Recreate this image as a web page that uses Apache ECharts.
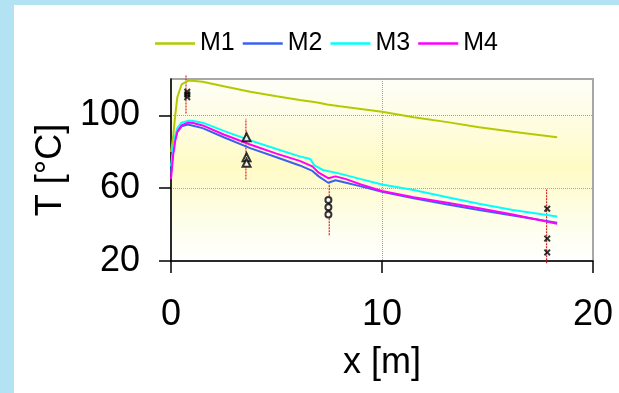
<!DOCTYPE html>
<html>
<head>
<meta charset="utf-8">
<script src="https://cdn.jsdelivr.net/npm/echarts@6/dist/echarts.min.js"></script>
<style>
  html, body { margin: 0; padding: 0; }
  body { width: 619px; height: 393px; background: #b3e3f3; position: relative; overflow: hidden; }
  #chart { position: absolute; left: 14px; top: 5px; width: 605px; height: 388px; background: #fff; }
</style>
</head>
<body>
<div id="chart"></div>
<script>
// simulated curves (x in m, T in °C)
var m1X = [0, 0.1, 0.2, 0.3, 0.5, 0.8, 1.0, 1.5, 2.5, 3.75, 5, 6.1, 6.7, 7.0, 7.4, 8.0, 9, 10, 11.5, 13.1, 14.6, 16.2, 18.3];
var m1Y = [80, 88, 100, 110, 117, 119, 119, 118.5, 116, 113, 110.5, 108.5, 107.5, 107, 106, 105, 103.5, 102, 99, 96.3, 93.5, 91, 88];

var m2X = [0, 0.1, 0.2, 0.3, 0.5, 0.8, 1.0, 1.5, 2.5, 3.75, 5, 6.1, 6.7, 7.0, 7.45, 7.8, 8.3, 9, 10, 11.5, 13.1, 14.6, 16.2, 18.3];
var m2Y = [68, 80, 87, 91, 94, 95, 94.5, 93, 88, 82, 77, 72.5, 69.5, 66.5, 63, 64.4, 63, 61, 58, 54.5, 51, 48, 45, 41];

var m3X = [0, 0.1, 0.2, 0.3, 0.5, 0.8, 1.0, 1.5, 2.5, 3.75, 5, 6.1, 6.6, 6.8, 7.2, 8.0, 9, 10, 11.5, 13.1, 14.6, 16.2, 18.3];
var m3Y = [72, 82, 89, 93, 96, 97, 97, 96, 91.5, 86.3, 81.5, 77.5, 76, 72.5, 70, 68, 65, 62, 59, 55, 51.5, 48, 44.5];

var m4X = [0, 0.1, 0.2, 0.3, 0.5, 0.8, 1.0, 1.5, 2.5, 3.75, 5, 6.1, 6.7, 7.0, 7.45, 7.8, 8.3, 9, 10, 11.5, 13.1, 14.6, 16.2, 18.3];
var m4Y = [65, 78, 86, 91, 94.5, 96, 96, 94.5, 89.5, 84, 79, 75, 72, 68.5, 65.5, 66.5, 65, 62, 58.5, 55, 52, 49, 45.5, 40.5];

// measurements
var crossAX = [0.77, 0.77, 0.77];
var crossAY = [113, 111.5, 110];
var triX = [3.58, 3.58, 3.58];
var triY = [88, 77, 74];
var circX = [7.46, 7.46, 7.46];
var circY = [53.5, 49.5, 45.5];
var crossBX = [17.83, 17.83, 17.83];
var crossBY = [48.7, 32.3, 24.7];

// error bars
var errX = [0.71, 3.55, 7.5, 17.8];
var errLow = [101, 64.8, 34.2, 18.8];
var errHigh = [122, 98.2, 62.6, 59.3];

var xTicks = [0, 10, 20];
var yTicks = [20, 60, 100];

function pairs(xs, ys) {
  return xs.map(function (x, i) { return [x, ys[i]]; });
}

var font = "'Liberation Sans', Arial, sans-serif";
var crossPath = 'path://M0,2L2,0L5,3L8,0L10,2L7,5L10,8L8,10L5,7L2,10L0,8L3,5Z';

var series = [
  { name: 'M1', color: '#b3ca00', x: m1X, y: m1Y },
  { name: 'M2', color: '#3a62ee', x: m2X, y: m2Y },
  { name: 'M3', color: '#00ffff', x: m3X, y: m3Y },
  { name: 'M4', color: '#ff00ff', x: m4X, y: m4Y }
].map(function (s) {
  return {
    name: s.name,
    type: 'line',
    data: pairs(s.x, s.y),
    showSymbol: false,
    color: s.color,
    lineStyle: { color: s.color, width: 2 },
    z: 3
  };
});

errX.forEach(function (x, i) {
  series.push({
    type: 'line',
    data: [[x, errLow[i]], [x, errHigh[i]]],
    showSymbol: false,
    clip: false,
    lineStyle: { color: '#dd2222', width: 1.2, type: [2, 1] },
    z: 2
  });
});

series.push(
  { type: 'scatter', data: pairs(crossAX, crossAY), symbol: crossPath, symbolSize: 7, itemStyle: { color: '#000' }, z: 5 },
  { type: 'scatter', data: pairs(triX, triY), symbol: 'emptyTriangle', symbolSize: 8, itemStyle: { color: '#000', borderWidth: 2 }, z: 5 },
  { type: 'scatter', data: pairs(circX, circY), symbol: 'emptyCircle', symbolSize: 6, itemStyle: { color: '#000', borderWidth: 2 }, z: 5 },
  { type: 'scatter', data: pairs(crossBX, crossBY), symbol: crossPath, symbolSize: 7, itemStyle: { color: '#000' }, z: 5 }
);

var chart = echarts.init(document.getElementById('chart'));
chart.setOption({
  animation: false,
  textStyle: { fontFamily: font },
  legend: {
    data: ['M1', 'M2', 'M3', 'M4'],
    left: 136,
    top: 21,
    icon: 'rect',
    itemWidth: 40,
    itemHeight: 2.5,
    itemGap: 8,
    textStyle: { fontSize: 25, color: '#000', fontFamily: font }
  },
  grid: {
    left: 157,
    right: 26,
    top: 74,
    bottom: 132,
    show: true,
    borderColor: '#a8a8a8',
    borderWidth: 2,
    backgroundColor: {
      type: 'linear', x: 0, y: 0, x2: 0, y2: 1,
      colorStops: [
        { offset: 0, color: '#fefef8' },
        { offset: 0.2, color: '#fefde6' },
        { offset: 0.48, color: '#fffbc6' },
        { offset: 0.85, color: '#fefef2' },
        { offset: 1, color: '#ffffff' }
      ]
    }
  },
  xAxis: {
    type: 'value',
    min: 0,
    max: 20,
    interval: 10,
    name: 'x [m]',
    nameLocation: 'middle',
    nameGap: 84,
    nameTextStyle: { fontSize: 36, color: '#000', fontFamily: font },
    axisLine: { lineStyle: { color: '#000', width: 1.5 } },
    axisTick: { show: true, length: 12, inside: false, lineStyle: { color: '#000', width: 1.5 } },
    axisLabel: { fontSize: 36, color: '#000', margin: 36, fontFamily: font },
    splitLine: { show: true, lineStyle: { color: '#8fb860', type: 'dotted', width: 1 } }
  },
  yAxis: {
    type: 'value',
    min: 20,
    max: 120,
    interval: 40,
    name: 'T [°C]',
    nameLocation: 'middle',
    nameRotate: 90,
    nameGap: 100,
    nameTextStyle: { fontSize: 36, color: '#000', fontFamily: font },
    axisLine: { show: true, lineStyle: { color: '#000', width: 1.5 } },
    axisTick: { show: true, length: 12, inside: false, customValues: yTicks, lineStyle: { color: '#000', width: 1.5 } },
    axisLabel: { fontSize: 36, color: '#000', margin: 31, customValues: yTicks, fontFamily: font },
    splitLine: { show: true, lineStyle: { color: '#8fb860', type: 'dotted', width: 1 } }
  },
  series: series
});
</script>
</body>
</html>
